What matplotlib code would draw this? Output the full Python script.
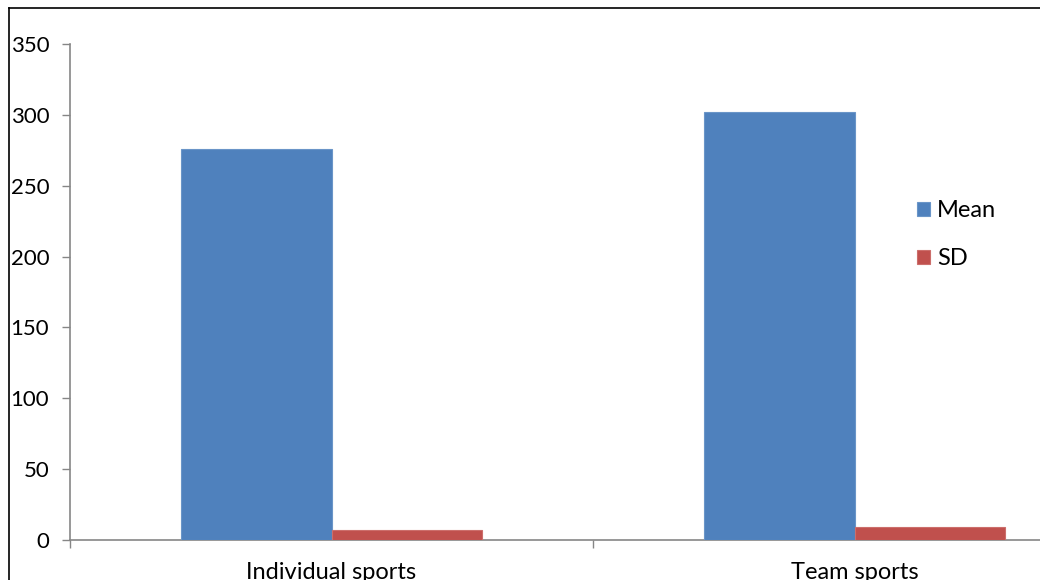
import matplotlib
matplotlib.use("Agg")
import matplotlib.pyplot as plt
from matplotlib.lines import Line2D
import numpy as np

categories = ["Individual sports", "Team sports"]
mean_values = [276, 302]
sd_values = [7, 9.5]
series_names = ["Mean", "SD"]
y_ticks = [0, 50, 100, 150, 200, 250, 300, 350]

plt.rcParams["font.family"] = ["Lato", "DejaVu Sans"]

W, H = 1040, 580
fig = plt.figure(figsize=(W / 100, H / 100), dpi=100)
fig.patch.set_facecolor("white")

# plot area runs past the right edge of the canvas
left, right, bottom, top = 70, 1116, 540, 44
ax = fig.add_axes([left / W, 1 - bottom / H, (right - left) / W, (bottom - top) / H])

x = np.arange(len(categories))
bw = 0.287
ax.bar(x - bw / 2, mean_values, width=bw, color="#4F81BD", edgecolor="#6A95C8",
       linewidth=0.8, label=series_names[0], zorder=3)
ax.bar(x + bw / 2, sd_values, width=bw, color="#C0504D", edgecolor="#CC6E6B",
       linewidth=0.8, label=series_names[1], zorder=3)

ax.set_xlim(-0.5, len(categories) - 0.5)
ax.set_ylim(0, 350)
ax.set_yticks(y_ticks)
ax.set_yticklabels([str(v) for v in y_ticks])

axis_color = "#868686"
for s in ["top", "right"]:
    ax.spines[s].set_visible(False)
for s in ["left", "bottom"]:
    ax.spines[s].set_color(axis_color)
    ax.spines[s].set_linewidth(1.2)

ax.tick_params(axis="y", direction="out", length=6, width=1.0, color=axis_color,
               labelsize=16, labelcolor="#000000", pad=9)
ax.set_xticks(x)
ax.set_xticklabels(categories)
ax.set_xticks(np.arange(-0.5, len(categories)), minor=True)
ax.tick_params(axis="x", which="major", length=0, labelsize=17, pad=16)
ax.tick_params(axis="x", which="minor", direction="out", length=6, width=1.0, color=axis_color)

leg = fig.legend(loc="upper left", bbox_to_anchor=(917 / W, 1 - 200 / H),
                 frameon=False, fontsize=17, handlelength=0.55, handleheight=0.55,
                 handletextpad=0.3, labelspacing=1.15, borderaxespad=0, borderpad=0)

# outer border of the chart area (left and top edges)
fig.add_artist(Line2D([9 / W, 9 / W], [0, 1 - 8 / H], transform=fig.transFigure,
                      color="black", linewidth=1.2))
fig.add_artist(Line2D([9 / W, 1], [1 - 8 / H, 1 - 8 / H], transform=fig.transFigure,
                      color="black", linewidth=1.2))

fig.savefig("out.png", dpi=100, facecolor="white")
